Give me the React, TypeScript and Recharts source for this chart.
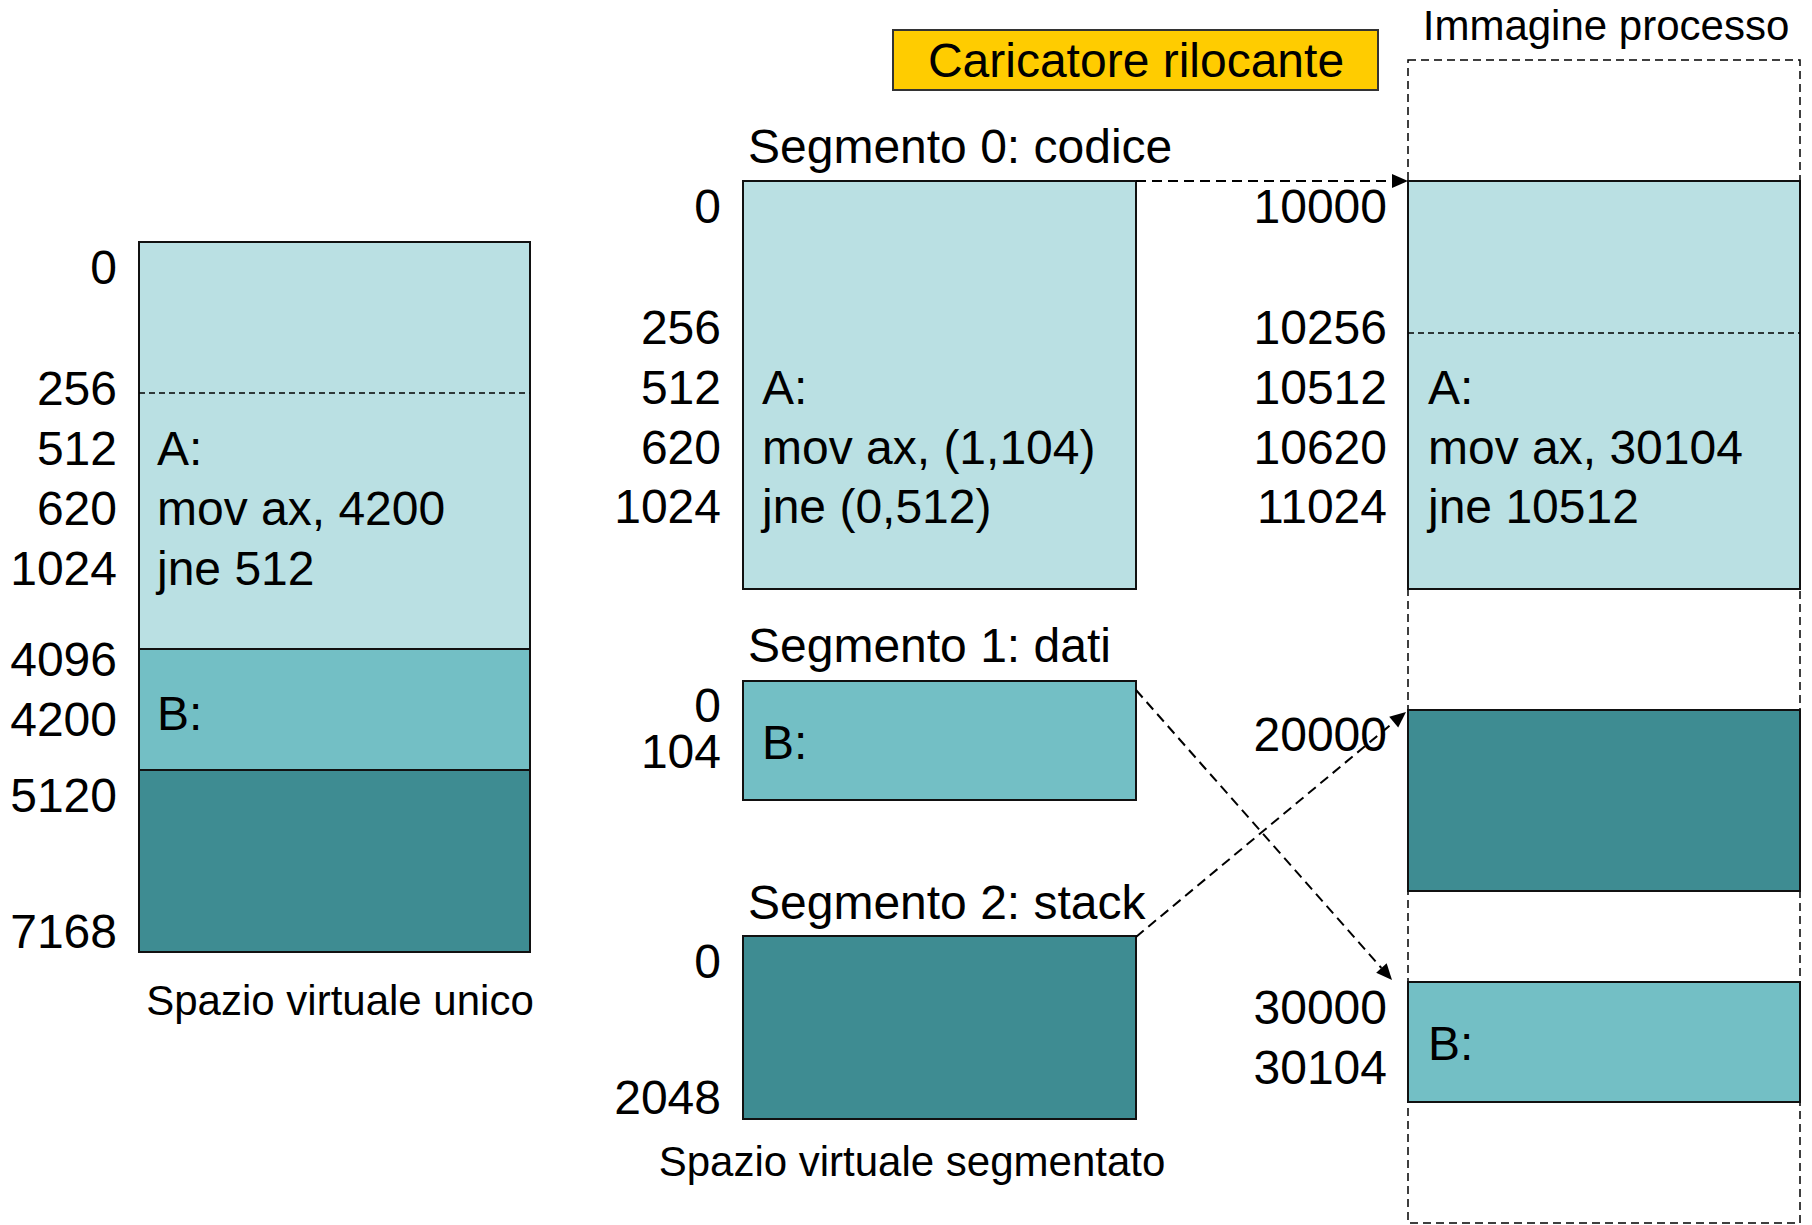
import { ComposedChart, XAxis, YAxis, ReferenceArea, ReferenceLine, Scatter } from 'recharts'

// ---- content ----
const title = 'Caricatore rilocante'

// spazio virtuale unico
const unicoAddresses = ['0', '256', '512', '620', '1024', '4096', '4200', '5120', '7168']
const unicoCode = ['A:', 'mov ax, 4200', 'jne 512']
const unicoData = ['B:']
const unicoCaption = 'Spazio virtuale unico'

// spazio virtuale segmentato
const segmentTitles = ['Segmento 0: codice', 'Segmento 1: dati', 'Segmento 2: stack']
const seg0Addresses = ['0', '256', '512', '620', '1024']
const seg0Code = ['A:', 'mov ax, (1,104)', 'jne (0,512)']
const seg1Addresses = ['0', '104']
const seg1Data = ['B:']
const seg2Addresses = ['0', '2048']
const segCaption = 'Spazio virtuale segmentato'

// immagine processo
const imageTitle = 'Immagine processo'
const imageAddresses = ['10000', '10256', '10512', '10620', '11024', '20000', '30000', '30104']
const imageCode = ['A:', 'mov ax, 30104', 'jne 10512']
const imageData = ['B:']

// ---- layout (canvas units = px) ----
const W = 1812
const H = 1225
const FONT = '"Liberation Sans", Arial, sans-serif'
const BIG = 48
const SMALL = 42

const LIGHT = '#BAE0E3'
const MID = '#73BFC5'
const DARK = '#3E8C92'

const unico = {
  x1: 139, x2: 530, labelX: 117, textX: 157,
  addrY: [267, 388, 448, 508, 568, 659, 719, 795, 931],
  codeY: [448, 508, 568], dataY: [713],
  blocks: [[242, 649, LIGHT], [649, 770, MID], [770, 952, DARK]] as [number, number, string][],
  divider: 393,
}
const seg = {
  x1: 743, x2: 1136, labelX: 721, textX: 762, titleX: 748,
  titleY: [146, 645, 902],
  seg0AddrY: [206, 327, 387, 447, 506],
  seg1AddrY: [705, 751],
  seg2AddrY: [961, 1097],
  codeY: [387, 447, 506], dataY: [742],
  blocks: [[181, 589, LIGHT], [681, 800, MID], [936, 1119, DARK]] as [number, number, string][],
}
const image = {
  x1: 1408, x2: 1800, labelX: 1387, textX: 1428,
  top: 60, bottom: 1223,
  addrY: [206, 327, 387, 447, 506, 734, 1007, 1067],
  codeY: [387, 447, 506], dataY: [1043],
  blocks: [[181, 589, LIGHT], [710, 891, DARK], [982, 1102, MID]] as [number, number, string][],
  divider: 333,
}

type TextItem = { x: number; y: number; text: string; anchor: 'start' | 'middle' | 'end'; size: number }

const col = (list: string[], ys: number[], x: number, anchor: TextItem['anchor'], size = BIG): TextItem[] =>
  list.map((text, i) => ({ x, y: ys[i], text, anchor, size }))

const texts: TextItem[] = [
  { x: 1136, y: 60, text: title, anchor: 'middle', size: BIG },
  { x: 1606, y: 25, text: imageTitle, anchor: 'middle', size: SMALL },
  { x: 340, y: 1000, text: unicoCaption, anchor: 'middle', size: SMALL },
  { x: 912, y: 1161, text: segCaption, anchor: 'middle', size: SMALL },
  ...col(unicoAddresses, unico.addrY, unico.labelX, 'end'),
  ...col(unicoCode, unico.codeY, unico.textX, 'start'),
  ...col(unicoData, unico.dataY, unico.textX, 'start'),
  ...col(segmentTitles, seg.titleY, seg.titleX, 'start'),
  ...col(seg0Addresses, seg.seg0AddrY, seg.labelX, 'end'),
  ...col(seg1Addresses, seg.seg1AddrY, seg.labelX, 'end'),
  ...col(seg2Addresses, seg.seg2AddrY, seg.labelX, 'end'),
  ...col(seg0Code, seg.codeY, seg.textX, 'start'),
  ...col(seg1Data, seg.dataY, seg.textX, 'start'),
  ...col(imageAddresses, image.addrY, image.labelX, 'end'),
  ...col(imageCode, image.codeY, image.textX, 'start'),
  ...col(imageData, image.dataY, image.textX, 'start'),
]

// segment -> image mappings (start corner, arrow tip)
const arrows = [
  [{ x: seg.x2, y: 181 }, { x: image.x1, y: 181 }],
  [{ x: seg.x2, y: 690 }, { x: 1392, y: 980 }],
  [{ x: seg.x2, y: 937 }, { x: 1406, y: 712 }],
]

const TextShape = (props: any) => {
  const { cx, cy, payload } = props
  return (
    <text
      x={cx}
      y={cy}
      textAnchor={payload.anchor}
      dominantBaseline="central"
      fontSize={payload.size}
      fontFamily={FONT}
      fill="#000"
    >
      {payload.text}
    </text>
  )
}

const ArrowShape = (props: any) => {
  const { x1, y1, x2, y2 } = props
  const a = Math.atan2(y2 - y1, x2 - x1)
  const len = 16
  const half = 7
  const bx = x2 - len * Math.cos(a)
  const by = y2 - len * Math.sin(a)
  const p1 = `${bx + half * Math.sin(a)},${by - half * Math.cos(a)}`
  const p2 = `${bx - half * Math.sin(a)},${by + half * Math.cos(a)}`
  return (
    <g>
      <line x1={x1} y1={y1} x2={bx} y2={by} stroke="#000" strokeWidth={2} strokeDasharray="10 6" />
      <polygon points={`${x2},${y2} ${p1} ${p2}`} fill="#000" />
    </g>
  )
}

export default function App() {
  return (
    <div style={{ position: 'absolute', left: 0, top: 0, width: W, height: H, background: '#fff' }}>
      <ComposedChart width={W} height={H} margin={{ top: 0, right: 0, bottom: 0, left: 0 }}>
        <XAxis type="number" dataKey="x" domain={[0, W]} allowDataOverflow hide />
        <YAxis type="number" dataKey="y" domain={[0, H]} allowDataOverflow reversed hide />

        {/* title box */}
        <ReferenceArea x1={893} x2={1378} y1={30} y2={90} fill="#FFCC00" fillOpacity={1} stroke="#333" strokeWidth={2} />

        {/* process image outline */}
        <ReferenceArea
          x1={image.x1} x2={image.x2} y1={image.top} y2={image.bottom}
          fill="none" stroke="#000" strokeWidth={1.5} strokeDasharray="8 5"
        />

        {unico.blocks.map(([y1, y2, c], i) => (
          <ReferenceArea key={`u${i}`} x1={unico.x1} x2={unico.x2} y1={y1} y2={y2} fill={c} fillOpacity={1} stroke="#111" strokeWidth={2} />
        ))}
        {seg.blocks.map(([y1, y2, c], i) => (
          <ReferenceArea key={`s${i}`} x1={seg.x1} x2={seg.x2} y1={y1} y2={y2} fill={c} fillOpacity={1} stroke="#111" strokeWidth={2} />
        ))}
        {image.blocks.map(([y1, y2, c], i) => (
          <ReferenceArea key={`i${i}`} x1={image.x1} x2={image.x2} y1={y1} y2={y2} fill={c} fillOpacity={1} stroke="#111" strokeWidth={2} />
        ))}

        <ReferenceLine
          segment={[{ x: unico.x1, y: unico.divider }, { x: unico.x2, y: unico.divider }]}
          stroke="#000" strokeWidth={1.5} strokeDasharray="6 4"
        />
        <ReferenceLine
          segment={[{ x: image.x1, y: image.divider }, { x: image.x2, y: image.divider }]}
          stroke="#000" strokeWidth={1.5} strokeDasharray="6 4"
        />

        {arrows.map((s, i) => (
          <ReferenceLine key={`a${i}`} segment={s} shape={ArrowShape} />
        ))}

        <Scatter data={texts} shape={TextShape} isAnimationActive={false} />
      </ComposedChart>
    </div>
  )
}
